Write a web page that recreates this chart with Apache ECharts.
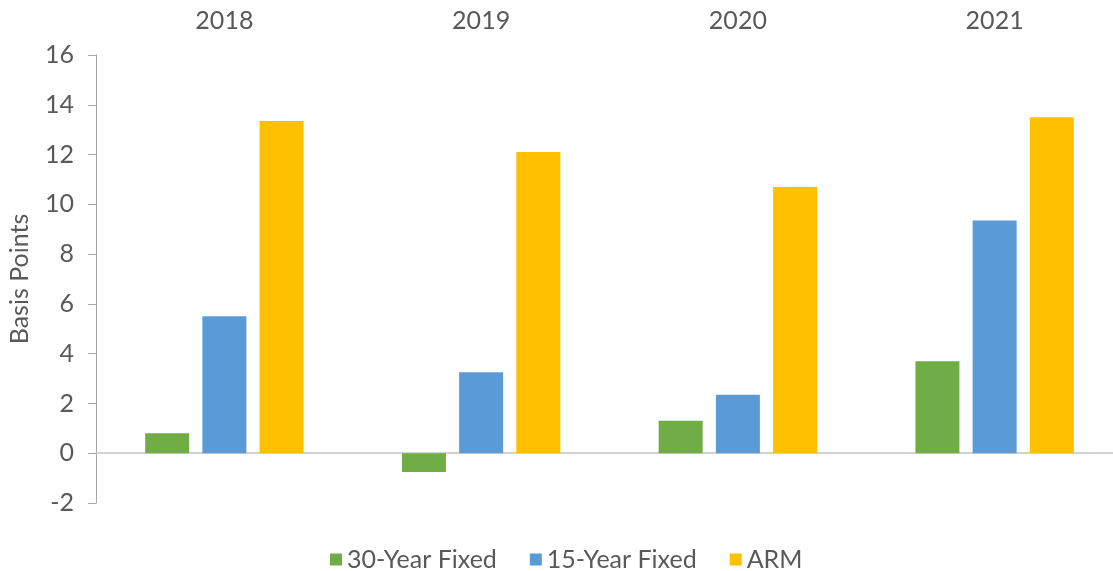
<!DOCTYPE html>
<html lang="en">
  <head>
    <meta charset="UTF-8" />
    <title>Basis Points by Year</title>
    <script src="https://cdn.jsdelivr.net/npm/echarts@6/dist/echarts.min.js"></script>
    <style>
      html, body { margin: 0; padding: 0; background: #fff; overflow: hidden; }
    </style>
  </head>
  <body>
    <!-- a bit wider than the window: the original plot is cut off at the right edge -->
    <div id="main" style="width: 1124px; height: 571px"></div>
    <script type="text/javascript">
      // data
      const years = ["2018", "2019", "2020", "2021"];
      const fixed30 = [0.8, -0.75, 1.3, 3.7];
      const fixed15 = [5.5, 3.25, 2.35, 9.35];
      const arm = [13.35, 12.1, 10.7, 13.5];
      const seriesNames = ["30-Year Fixed", "15-Year Fixed", "ARM"];
      const colors = ["#70ad47", "#5b9bd5", "#ffc000"];

      const font = "Lato";
      const textColor = "#595959";
      const fs = 25;

      let options = {
        animation: false,
        color: colors,
        textStyle: { fontFamily: font },
        legend: {
          left: 325,
          top: 542,
          icon: "rect",
          itemWidth: 12,
          itemHeight: 12,
          itemGap: 33,
          textStyle: { fontFamily: font, fontSize: fs, color: textColor },
          data: seriesNames,
        },
        grid: {
          left: 96,
          right: 1,
          top: 55,
          bottom: 68,
          containLabel: false,
          outerBoundsMode: "none",
        },
        xAxis: [
          {
            type: "category",
            position: "top",
            data: years,
            axisLine: { show: false, onZero: false },
            axisTick: { show: false },
            axisLabel: { margin: 22, fontSize: fs, color: textColor, fontFamily: font },
          },
          {
            // the zero line along the bottom of the bars
            type: "category",
            position: "bottom",
            data: years,
            axisLine: { onZero: true, lineStyle: { color: "#c4c4c4", width: 1.5 } },
            axisTick: { show: false },
            axisLabel: { show: false },
          },
        ],
        yAxis: {
          type: "value",
          min: -2,
          max: 16,
          interval: 2,
          name: "Basis Points",
          nameLocation: "middle",
          nameGap: 64,
          nameTextStyle: { fontSize: fs, color: textColor, fontFamily: font },
          axisLine: { show: true, lineStyle: { color: "#a6a6a6", width: 1 } },
          axisTick: { show: true, length: 8, lineStyle: { color: "#a6a6a6" } },
          axisLabel: { margin: 22, fontSize: fs, color: textColor, fontFamily: font },
          splitLine: { show: false },
        },
        series: [fixed30, fixed15, arm].map((vals, i) => ({
          name: seriesNames[i],
          type: "bar",
          xAxisIndex: 0,
          barWidth: 44,
          barGap: "30%",
          data: vals,
        })),
      };

      let myChart = echarts.init(document.getElementById("main"));
      myChart.setOption(options);
    </script>
  </body>
</html>
